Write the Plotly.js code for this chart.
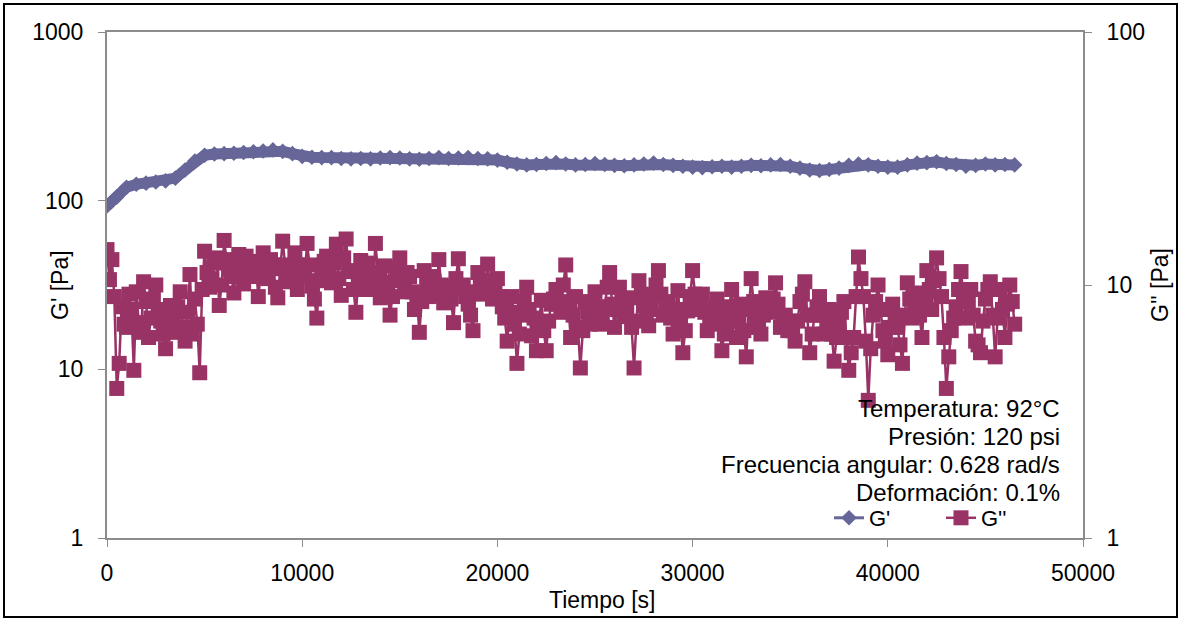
<!DOCTYPE html>
<html>
<head>
<meta charset="utf-8">
<script src="https://cdn.plot.ly/plotly-3.0.1.min.js"></script>
<style>
html,body{margin:0;padding:0;background:#fff;}
#chart{width:1181px;height:620px;}
</style>
</head>
<body>
<div id="chart"></div>
<script>
// Time (s) for G'
var timeG1 = [0,500,1000,1500,2000,2500,3000,3500,4000,4500,
5000,5500,6000,6500,7000,7500,8000,8500,9000,9500,
10000,10500,11000,11500,12000,12500,13000,13500,14000,14500,
15000,15500,16000,16500,17000,17500,18000,18500,19000,19500,
20000,20500,21000,21500,22000,22500,23000,23500,24000,24500,
25000,25500,26000,26500,27000,27500,28000,28500,29000,29500,
30000,30500,31000,31500,32000,32500,33000,33500,34000,34500,
35000,35500,36000,36500,37000,37500,38000,38500,39000,39500,
40000,40500,41000,41500,42000,42500,43000,43500,44000,44500,
45000,45500,46000,46500];
// G' [Pa]
var gPrime = [93,105,120,125,127,129,131,136,152,172,
186,189,190,191,193,195,197,200,196,190,
183,181,180,180,178,177,178,177,179,180,
179,177,176,178,180,178,179,180,178,177,
174,169,165,163,164,166,168,165,163,164,
166,164,162,161,163,165,167,164,162,160,
158,157,159,160,158,160,162,161,163,164,
160,156,152,151,153,156,162,165,163,160,
158,158,163,167,168,170,166,164,160,162,
165,163,164,163];

// Time (s) for G''
var timeG2 = [0,125,250,375,500,625,750,875,1000,1125,1250,1375,1500,1625,1750,1875,2000,2125,2250,2375,
2500,2625,2750,2875,3000,3125,3250,3375,3500,3625,3750,3875,4000,4125,4250,4375,4500,4625,4750,4875,
5000,5125,5250,5375,5500,5625,5750,5875,6000,6125,6250,6375,6500,6625,6750,6875,7000,7125,7250,7375,
7500,7625,7750,7875,8000,8125,8250,8375,8500,8625,8750,8875,9000,9125,9250,9375,9500,9625,9750,9875,
10000,10125,10250,10375,10500,10625,10750,10875,11000,11125,11250,11375,11500,11625,11750,11875,12000,12125,12250,12375,
12500,12625,12750,12875,13000,13125,13250,13375,13500,13625,13750,13875,14000,14125,14250,14375,14500,14625,14750,14875,
15000,15125,15250,15375,15500,15625,15750,15875,16000,16125,16250,16375,16500,16625,16750,16875,17000,17125,17250,17375,
17500,17625,17750,17875,18000,18125,18250,18375,18500,18625,18750,18875,19000,19125,19250,19375,19500,19625,19750,19875,
20000,20125,20250,20375,20500,20625,20750,20875,21000,21125,21250,21375,21500,21625,21750,21875,22000,22125,22250,22375,
22500,22625,22750,22875,23000,23125,23250,23375,23500,23625,23750,23875,24000,24125,24250,24375,24500,24625,24750,24875,
25000,25125,25250,25375,25500,25625,25750,25875,26000,26125,26250,26375,26500,26625,26750,26875,27000,27125,27250,27375,
27500,27625,27750,27875,28000,28125,28250,28375,28500,28625,28750,28875,29000,29125,29250,29375,29500,29625,29750,29875,
30000,30125,30250,30375,30500,30625,30750,30875,31000,31125,31250,31375,31500,31625,31750,31875,32000,32125,32250,32375,
32500,32625,32750,32875,33000,33125,33250,33375,33500,33625,33750,33875,34000,34125,34250,34375,34500,34625,34750,34875,
35000,35125,35250,35375,35500,35625,35750,35875,36000,36125,36250,36375,36500,36625,36750,36875,37000,37125,37250,37375,
37500,37625,37750,37875,38000,38125,38250,38375,38500,38625,38750,38875,39000,39125,39250,39375,39500,39625,39750,39875,
40000,40125,40250,40375,40500,40625,40750,40875,41000,41125,41250,41375,41500,41625,41750,41875,42000,42125,42250,42375,
42500,42625,42750,42875,43000,43125,43250,43375,43500,43625,43750,43875,44000,44125,44250,44375,44500,44625,44750,44875,
45000,45125,45250,45375,45500,45625,45750,45875,46000,46125,46250,46375,46500];
// G'' [Pa]
var gDouble = [13.8,10.5,12.6,9.0,3.9,4.9,8.2,7.0,6.8,9.2,8.0,4.6,9.4,7.1,6.5,10.3,8.6,6.2,7.4,8.8,
10.0,8.0,7.2,6.4,5.6,7.0,8.3,7.6,6.5,8.2,9.4,6.8,6.0,7.8,11.0,6.4,8.8,7.0,4.5,9.6,
13.6,11.2,9.8,10.6,12.2,12.8,8.3,10.0,15.0,12.6,11.5,10.8,9.3,11.8,13.2,11.0,10.1,13.0,12.4,10.8,
11.0,12.2,9.0,11.0,13.4,11.8,10.6,12.6,12.0,9.8,8.9,11.6,14.9,12.0,10.3,10.6,11.8,13.4,9.6,11.2,
12.0,10.8,14.6,12.0,9.9,8.8,7.4,10.4,11.6,12.4,13.0,11.2,10.2,12.2,14.5,10.6,9.1,12.8,15.2,11.4,
11.3,9.6,7.8,10.4,12.5,11.0,9.6,12.2,10.8,9.6,14.6,11.2,8.9,10.2,11.9,9.4,7.6,9.0,10.4,11.6,
12.8,10.6,9.4,11.2,10.8,9.4,8.0,9.0,6.5,8.6,11.4,10.2,9.0,10.8,10.3,9.2,12.6,10.0,8.5,9.8,
9.8,8.8,7.1,10.6,12.7,9.6,10.0,9.0,8.4,7.6,6.6,9.4,11.2,10.4,9.2,10.0,12.1,9.8,8.8,9.4,
10.6,9.0,8.2,7.4,6.0,7.8,9.0,7.0,4.9,6.4,7.6,8.6,9.8,8.0,6.3,7.4,5.5,7.0,8.7,6.6,
5.5,7.2,8.4,8.8,9.6,8.4,7.8,10.0,12.0,8.6,6.2,7.6,9.0,6.8,4.7,6.6,8.6,7.8,7.0,8.2,
9.4,8.2,7.0,7.6,8.2,9.8,11.2,8.4,6.8,8.0,9.8,8.6,7.5,8.2,8.9,6.8,4.7,7.2,10.4,9.2,
8.3,7.4,6.9,8.0,9.1,10.0,11.4,9.2,7.6,8.0,8.6,7.4,6.4,8.0,9.5,7.2,5.4,6.6,7.9,9.0,
11.4,9.2,8.0,8.6,9.2,7.8,6.6,7.0,7.4,8.2,8.8,7.2,5.5,6.4,7.0,8.2,9.6,7.8,6.2,7.2,
8.4,6.6,5.2,8.0,10.6,8.6,7.2,6.8,6.4,7.6,8.9,8.4,7.8,8.8,10.2,8.4,6.8,7.2,7.6,6.6,
7.2,6.6,6.0,7.2,8.6,9.2,10.3,7.6,5.4,6.4,7.6,8.2,9.0,7.6,6.4,7.2,8.0,6.4,5.0,6.2,
7.0,7.8,8.6,6.2,4.6,5.4,6.2,9.0,12.9,10.6,9.0,6.0,3.5,5.6,7.6,8.6,10.0,8.0,6.6,6.0,
5.3,6.8,8.4,7.4,6.8,5.8,4.9,7.6,10.2,8.8,7.4,8.2,9.3,7.6,6.2,8.6,11.4,9.6,8.0,10.4,
12.8,10.6,9.0,6.2,3.9,5.2,6.6,7.4,8.2,9.6,11.3,9.0,7.4,8.6,9.6,7.6,6.0,5.8,5.4,7.2,
8.8,9.6,10.3,7.6,5.2,7.4,9.6,8.0,6.2,8.4,10.0,8.6,7.0];

var xTicks = [0,10000,20000,30000,40000,50000];
var yLeftTicks = [1,10,100,1000];
var yRightTicks = [1,10,100];
var noteLines = ["Temperatura: 92°C","Presión: 120 psi","Frecuencia angular: 0.628 rad/s","Deformación: 0.1%"];

var colG1 = '#666699', colG2 = '#993366', axisCol = '#8c8c8c';
var fontFam = '"Liberation Sans", Arial, sans-serif';

var traces = [
  {x: timeG1, y: gPrime, name: "G'", type: 'scatter', mode: 'lines', showlegend: false, hoverinfo: 'skip',
   line: {color: colG1, width: 11}},
  {x: timeG1, y: gPrime, name: "G'", type: 'scatter', mode: 'lines+markers', legend: 'legend',
   line: {color: colG1, width: 3}, marker: {symbol: 'diamond', size: 12, color: colG1}},
  {x: timeG2, y: gDouble, name: "G''", type: 'scatter', mode: 'lines+markers', yaxis: 'y2', legend: 'legend2',
   line: {color: colG2, width: 2.5}, marker: {symbol: 'square', size: 15, color: colG2}}
];

var annotations = noteLines.map(function(t, i){
  return {text: t, xref: 'paper', yref: 'paper', x: (1062-107)/976, xanchor: 'right',
    y: (538-(409+i*27.7))/506, yanchor: 'middle', showarrow: false, align: 'right',
    font: {family: fontFam, size: 24, color: '#000'}};
});
annotations.push({text: "G' [Pa]", xref: 'paper', yref: 'paper', x: (60-107)/976, y: (538-285)/506,
  xanchor: 'center', yanchor: 'middle', textangle: -90, showarrow: false, font: {family: fontFam, size: 23, color: '#000'}});
annotations.push({text: "G'' [Pa]", xref: 'paper', yref: 'paper', x: (1160-107)/976, y: (538-285)/506,
  xanchor: 'center', yanchor: 'middle', textangle: -90, showarrow: false, font: {family: fontFam, size: 23, color: '#000'}});
annotations.push({text: "Tiempo [s]", xref: 'paper', yref: 'paper', x: (602-107)/976, y: (538-600)/506,
  xanchor: 'center', yanchor: 'middle', showarrow: false, font: {family: fontFam, size: 23, color: '#000'}});

var legendBase = {orientation: 'h', y: (538-518)/506, xanchor: 'left', yanchor: 'middle',
    bgcolor: 'rgba(0,0,0,0)', font: {family: fontFam, size: 22, color: '#000'}};

var layout = {
  width: 1181, height: 620,
  margin: {l: 107, r: 98, t: 32, b: 82, pad: 0},
  paper_bgcolor: '#fff', plot_bgcolor: '#fff',
  font: {family: fontFam, size: 23, color: '#000'},
  showlegend: true,
  legend: Object.assign({}, legendBase, {x: (829-107)/976}),
  legend2: Object.assign({}, legendBase, {x: (941-107)/976}),
  xaxis: {range: [0, 50000], tickvals: xTicks, ticktext: xTicks.map(String), showgrid: false, zeroline: false,
    ticks: 'outside', ticklen: 7, tickcolor: axisCol, showline: true, linecolor: axisCol, linewidth: 2, mirror: true,
    ticklabelstandoff: 6, tickfont: {family: fontFam, size: 23, color: '#000'}},
  yaxis: {type: 'log', range: [0, 3], tickvals: yLeftTicks, ticktext: yLeftTicks.map(String), showgrid: false, zeroline: false,
    ticks: 'outside', ticklen: 7, tickcolor: axisCol, showline: true, linecolor: axisCol, linewidth: 2,
    ticklabelstandoff: 10, tickfont: {family: fontFam, size: 23, color: '#000'}},
  yaxis2: {type: 'log', range: [0, 2], overlaying: 'y', side: 'right', tickvals: yRightTicks, ticktext: yRightTicks.map(String),
    showgrid: false, zeroline: false, ticks: 'outside', ticklen: 7, tickcolor: axisCol, showline: true, linecolor: axisCol, linewidth: 2,
    ticklabelstandoff: 10, tickfont: {family: fontFam, size: 23, color: '#000'}},
  annotations: annotations,
  shapes: [{type: 'rect', xref: 'paper', yref: 'paper', x0: (4-107)/976, x1: (1177-107)/976,
    y0: (538-617)/506, y1: (538-4)/506, line: {color: '#000', width: 2}, fillcolor: 'rgba(0,0,0,0)', layer: 'above'}]
};

Plotly.newPlot('chart', traces, layout, {displayModeBar: false, staticPlot: true});
</script>
</body>
</html>
